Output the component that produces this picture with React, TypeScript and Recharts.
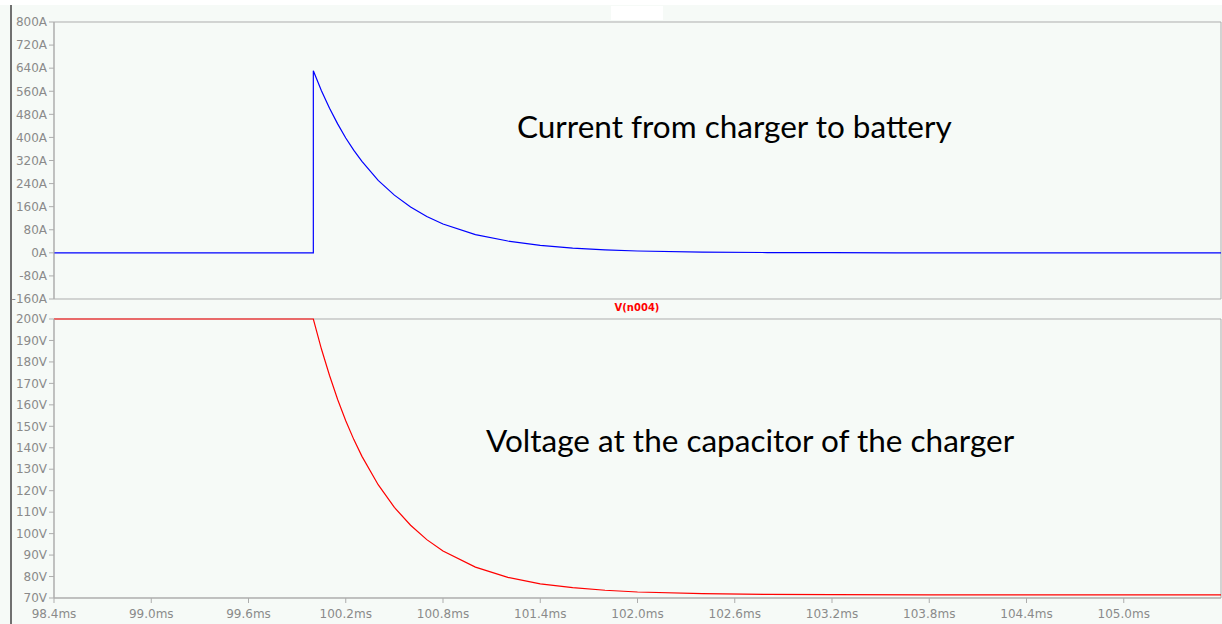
import { Line, LineChart, ReferenceArea, XAxis, YAxis } from "recharts";

// LTspice-ish palette
const COLOR = {
  bg: "#f6faf7",
  frame: "#adadad",
  tick: "#8a8a8a",
  rail: "#707070",
  current: "#0000ff",
  voltage: "#ff0000",
} as const;

const T_DOMAIN: [number, number] = [98.4, 105.6];
const timeTicks = [98.4, 99.0, 99.6, 100.2, 100.8, 101.4, 102.0, 102.6, 103.2, 103.8, 104.4, 105.0];
const ampTicks = [-160, -80, 0, 80, 160, 240, 320, 400, 480, 560, 640, 720, 800];
const voltTicks = [70, 80, 90, 100, 110, 120, 130, 140, 150, 160, 170, 180, 190, 200];

// I(charger -> battery) (ms, A)
const currentTime = [
  98.4, 100.0, 100.0, 100.05, 100.1, 100.15, 100.2, 100.25, 100.3, 100.4, 100.5, 100.6, 100.7, 100.8,
  101.0, 101.2, 101.4, 101.6, 101.8, 102.0, 102.4, 102.8, 103.2, 103.6, 105.6,
];
const currentAmps = [
  0, 0, 631, 562, 501, 447, 398, 355, 317, 251, 200, 159, 126, 100, 63, 41, 26, 16, 10, 6.4, 2.5, 1,
  0.4, 0, 0,
];

// V(n004), charger capacitor voltage (ms, V)
const voltageTime = [
  98.4, 100.0, 100.05, 100.1, 100.15, 100.2, 100.25, 100.3, 100.4, 100.5, 100.6, 100.7, 100.8, 101.0,
  101.2, 101.4, 101.6, 101.8, 102.0, 102.4, 102.8, 103.2, 103.8, 105.6,
];
const voltageVolts = [
  200, 200, 186, 173.7, 162.5, 152.6, 143.8, 136, 122.8, 112.2, 103.9, 97.2, 91.9, 84.4, 79.6, 76.6,
  74.8, 73.6, 72.8, 72.0, 71.7, 71.6, 71.5, 71.5,
];

const currentRows = currentTime.map((t, i) => ({ t, a: currentAmps[i] }));
const voltageRows = voltageTime.map((t, i) => ({ t, v: voltageVolts[i] }));

const tickStyle = { fontSize: 12, fill: COLOR.tick, fontFamily: "DejaVu Sans" };

export default function App() {
  return (
    <div
      style={{
        position: "absolute",
        left: 0,
        top: 0,
        width: 1222,
        height: 624,
        background: COLOR.bg,
        overflow: "hidden",
      }}
    >
      {/* white strip along the top edge + empty trace label box */}
      <div style={{ position: "absolute", left: 0, top: 0, width: 1222, height: 5, background: "#fff" }} />
      <div style={{ position: "absolute", left: 611, top: 6, width: 52, height: 14, background: "#fff" }} />
      <div style={{ position: "absolute", left: 10, top: 5, width: 2, height: 619, background: COLOR.rail }} />

      <div style={{ position: "absolute", left: 0, top: 0 }}>
        <LineChart width={1222} height={312} data={currentRows} margin={{ top: 22, right: 1, bottom: 13, left: 0 }}>
          <XAxis dataKey="t" type="number" domain={T_DOMAIN} hide allowDataOverflow />
          <YAxis
            type="number"
            domain={[-160, 800]}
            ticks={ampTicks}
            interval={0}
            width={54}
            tickSize={5}
            tickFormatter={(v: number) => `${v}A`}
            tick={tickStyle}
            stroke={COLOR.frame}
          />
          <ReferenceArea x1={98.4} x2={105.6} y1={-160} y2={800} fill="none" stroke={COLOR.frame} />
          <Line
            type="linear"
            dataKey="a"
            stroke={COLOR.current}
            strokeWidth={1.2}
            dot={false}
            isAnimationActive={false}
          />
        </LineChart>
      </div>

      <div style={{ position: "absolute", left: 0, top: 300 }}>
        <LineChart width={1222} height={324} data={voltageRows} margin={{ top: 19, right: 1, bottom: 0, left: 0 }}>
          <XAxis
            dataKey="t"
            type="number"
            domain={T_DOMAIN}
            ticks={timeTicks}
            interval={0}
            height={26}
            tickSize={5}
            tickMargin={6}
            tickFormatter={(v: number) => `${v.toFixed(1)}ms`}
            tick={tickStyle}
            stroke={COLOR.frame}
            allowDataOverflow
          />
          <YAxis
            type="number"
            domain={[70, 200]}
            ticks={voltTicks}
            interval={0}
            width={54}
            tickSize={5}
            tickFormatter={(v: number) => `${v}V`}
            tick={tickStyle}
            stroke={COLOR.frame}
          />
          <ReferenceArea x1={98.4} x2={105.6} y1={70} y2={200} fill="none" stroke={COLOR.frame} />
          <Line
            type="linear"
            dataKey="v"
            stroke={COLOR.voltage}
            strokeWidth={1.2}
            dot={false}
            isAnimationActive={false}
          />
        </LineChart>
      </div>

      <svg
        width={1222}
        height={624}
        style={{ position: "absolute", left: 0, top: 0, pointerEvents: "none" }}
      >
        <text x={637} y={311} textAnchor="middle" fontFamily="DejaVu Sans" fontWeight="bold" fontSize={10} fill={COLOR.voltage}>
          V(n004)
        </text>
        <text x={517} y={138} fontFamily="Lato" fontSize={31.5} fill="#000">
          Current from charger to battery
        </text>
        <text x={486} y={452} fontFamily="Lato" fontSize={31.5} fill="#000">
          Voltage at the capacitor of the charger
        </text>
      </svg>
    </div>
  );
}
